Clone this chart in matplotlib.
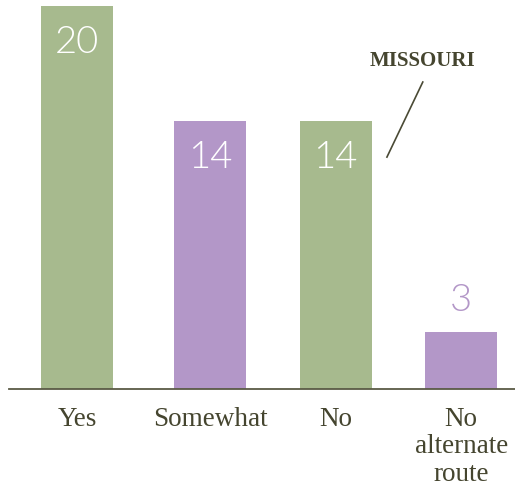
import matplotlib
matplotlib.use("Agg")
import matplotlib.pyplot as plt
import numpy as np

# responses and counts
categories = ["Yes", "Somewhat", "No", "No\nalternate\nroute"]
counts = [20, 14, 14, 3]

green = "#a7ba8e"
purple = "#b397c8"
ink = "#45452f"
bar_colors = [green, purple, green, purple]

fig = plt.figure(figsize=(5.15, 4.91), dpi=100)
ax = fig.add_axes([9 / 515, 102 / 491, 506 / 515, 383 / 491])

# bar slots are not quite evenly spaced
x = np.array([0, 1.04, 2.02, 3.0])
bars = ax.bar(x, counts, width=0.5625, color=bar_colors, zorder=2)

ax.set_xlim(-0.531, 3.42)
ax.set_ylim(0, 20)

for spine in ["top", "right", "left"]:
    ax.spines[spine].set_visible(False)
ax.spines["bottom"].set_color("#5a5a45")
ax.spines["bottom"].set_linewidth(1.3)
ax.set_yticks([])
ax.set_xticks(x)
ax.set_xticklabels(categories, fontsize=19.5, family="Liberation Serif",
                   color=ink, linespacing=1.12)
ax.tick_params(axis="x", length=0, pad=13)

# value labels: inside tall bars, above the short one
for xi, v, c in zip(x, counts, bar_colors):
    if v >= 10:
        ax.text(xi, v - 1.95, str(v), ha="center", va="center", fontsize=27.5,
                family="Lato", fontweight=300, color="white")
    else:
        ax.text(xi, v + 1.6, str(v), ha="center", va="center", fontsize=27.5,
                family="Lato", fontweight=300, color=c)

ax.text(2.695, 17.13, "MISSOURI", ha="center", va="center", fontsize=15,
        family="Liberation Serif", fontweight="bold", color=ink)
ax.plot([2.70, 2.42], [16.03, 12.11], color="#4a4a35", lw=1.2, clip_on=False)

fig.savefig("out.png", dpi=100)
